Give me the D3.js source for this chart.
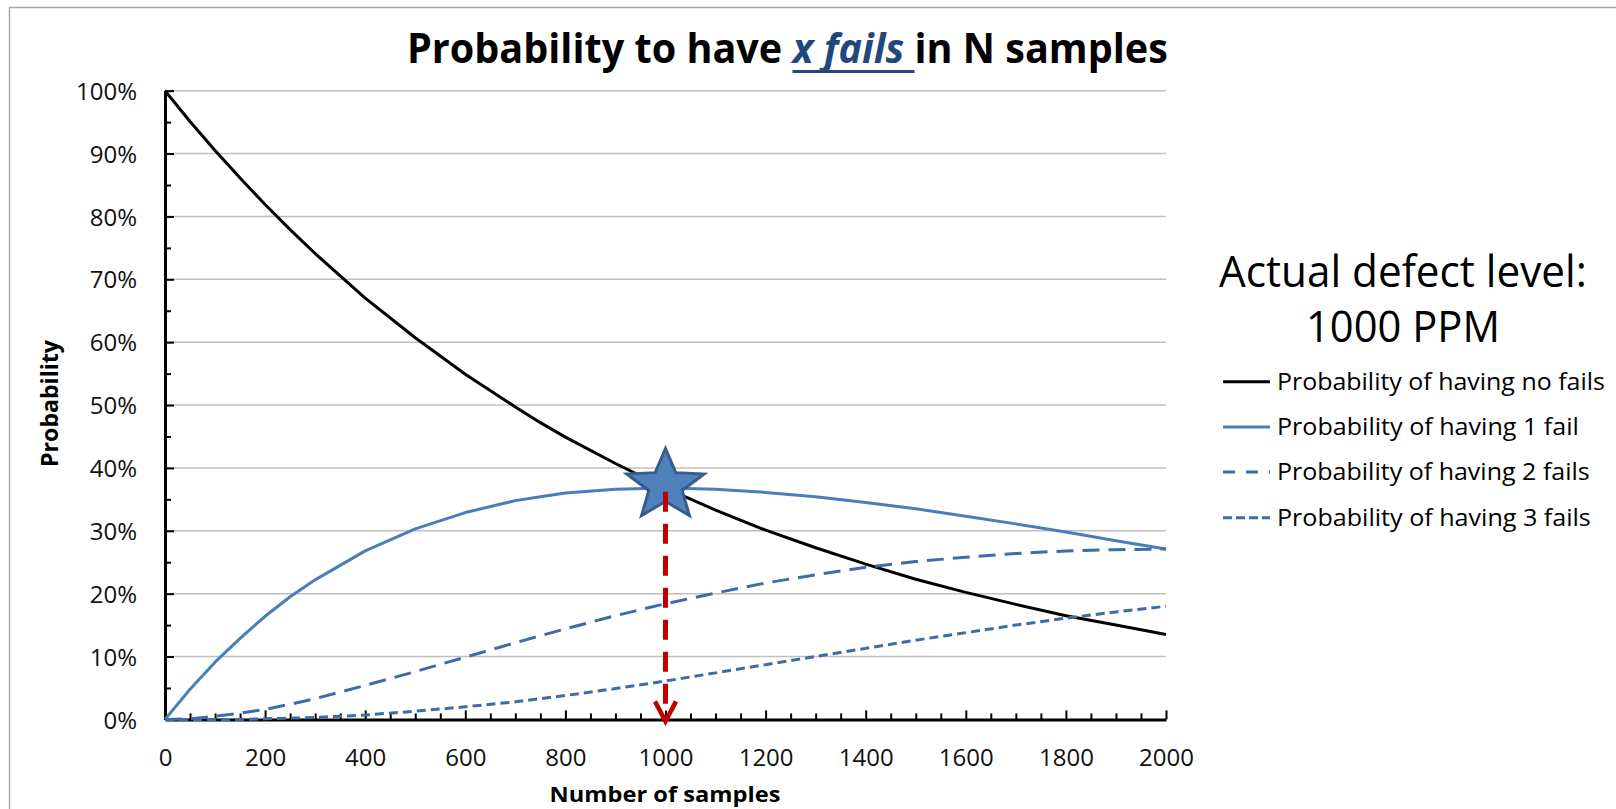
<!DOCTYPE html>
<html>
<head>
<meta charset="utf-8">
<script src="https://cdn.jsdelivr.net/npm/d3@7"></script>
<style>
  html, body { margin: 0; padding: 0; background: #fff; }
  svg { display: block; font-family: "Open Sans", "Noto Sans", sans-serif; }
</style>
</head>
<body>
<svg id="chart" width="1616" height="809"></svg>
<script>
// Sample sizes (x) and the probability of each outcome at a 1000 PPM defect level
const samples = [0, 50, 100, 150, 200, 250, 300, 400, 500, 600, 700, 750, 800, 900, 1000,
                 1100, 1200, 1300, 1400, 1500, 1600, 1700, 1800, 1900, 2000];
const noFails = [1.000, 0.951, 0.905, 0.861, 0.819, 0.779, 0.741, 0.670, 0.607, 0.549, 0.497, 0.472, 0.449, 0.407, 0.368,
                 0.333, 0.301, 0.273, 0.247, 0.223, 0.202, 0.183, 0.165, 0.150, 0.135];
const oneFail = [0, 0.048, 0.091, 0.129, 0.164, 0.195, 0.222, 0.268, 0.303, 0.329, 0.348, 0.354, 0.360, 0.366, 0.368,
                 0.366, 0.361, 0.354, 0.345, 0.335, 0.323, 0.311, 0.298, 0.284, 0.271];
const twoFails = [0, 0.001, 0.005, 0.010, 0.016, 0.024, 0.033, 0.054, 0.076, 0.099, 0.122, 0.133, 0.144, 0.165, 0.184,
                  0.201, 0.217, 0.230, 0.242, 0.251, 0.258, 0.264, 0.268, 0.270, 0.271];
const threeFails = [0, 0, 0, 0, 0.001, 0.002, 0.003, 0.007, 0.013, 0.020, 0.028, 0.033, 0.038, 0.049, 0.061,
                    0.074, 0.087, 0.100, 0.113, 0.126, 0.138, 0.150, 0.161, 0.171, 0.180];
const seriesNames = ["Probability of having no fails", "Probability of having 1 fail",
                     "Probability of having 2 fails", "Probability of having 3 fails"];

// Axis ticks
const xTickValues = [0, 200, 400, 600, 800, 1000, 1200, 1400, 1600, 1800, 2000];
const yTickValues = [0, 0.1, 0.2, 0.3, 0.4, 0.5, 0.6, 0.7, 0.8, 0.9, 1.0];
const yTickLabels = ["0%", "10%", "20%", "30%", "40%", "50%", "60%", "70%", "80%", "90%", "100%"];

// Highlighted point: sample size equal to 1/defect rate
const markerSample = 1000;
const markerValue = 0.372;
const arrowTopValue = 0.362;

const svg = d3.select("#chart");
const W = 1616, H = 809;
const plot = { left: 165, right: 1166, top: 90.7, bottom: 719.4 };

const x = d3.scaleLinear().domain([0, 2000]).range([plot.left, plot.right]);
const y = d3.scaleLinear().domain([0, 1]).range([plot.bottom, plot.top]);

const BLUE = "#4A7EBB", BLUE_DASH = "#3F6CA6", RED = "#C00000";

svg.append("rect").attr("width", W).attr("height", H).attr("fill", "#fff");

// chart frame (top and left edges)
svg.append("path")
  .attr("d", `M9.5,${H + 2}V7.5H${W + 2}`)
  .attr("fill", "none").attr("stroke", "#a6a6a6").attr("stroke-width", 1.5);

// horizontal gridlines
svg.append("g").selectAll("line")
  .data(yTickValues.slice(1))
  .join("line")
  .attr("x1", plot.left).attr("x2", plot.right)
  .attr("y1", d => y(d)).attr("y2", d => y(d))
  .attr("stroke", "#c0c0c0").attr("stroke-width", 1.5);

// x axis: major ticks with labels, minor ticks every 50
const xMinor = d3.range(0, 2001, 50).filter(v => v % 200 !== 0);
const gxMinor = svg.append("g").attr("transform", `translate(0,${y(0)})`)
  .call(d3.axisBottom(x).tickValues(xMinor).tickSize(-6).tickSizeOuter(0).tickFormat(""));
gxMinor.select(".domain").remove();
gxMinor.selectAll("line").attr("stroke", "#000").attr("stroke-width", 2);

const gx = svg.append("g").attr("transform", `translate(0,${y(0)})`)
  .call(d3.axisBottom(x).tickValues(xTickValues).tickSize(-9).tickSizeOuter(0)
    .tickPadding(30).tickFormat(d3.format("d")));
gx.attr("font-family", null).attr("font-size", null);
gx.select(".domain").attr("stroke", "#000").attr("stroke-width", 3);
gx.selectAll(".tick line").attr("stroke", "#000").attr("stroke-width", 2);
gx.selectAll(".tick text").attr("font-size", 24).attr("fill", "#111");

// y axis: major ticks with labels, minor ticks every 5%
const yMinor = [0.05, 0.15, 0.25, 0.35, 0.45, 0.55, 0.65, 0.75, 0.85, 0.95];
const gyMinor = svg.append("g").attr("transform", `translate(${x(0)},0)`)
  .call(d3.axisLeft(y).tickValues(yMinor).tickSize(-6).tickSizeOuter(0).tickFormat(""));
gyMinor.select(".domain").remove();
gyMinor.selectAll("line").attr("stroke", "#000").attr("stroke-width", 2);

const gy = svg.append("g").attr("transform", `translate(${x(0)},0)`)
  .call(d3.axisLeft(y).tickValues(yTickValues).tickSize(-9).tickSizeOuter(0)
    .tickPadding(28).tickFormat((d, i) => yTickLabels[i]));
gy.attr("font-family", null).attr("font-size", null);
gy.select(".domain").attr("stroke", "#000").attr("stroke-width", 3);
gy.selectAll(".tick line").attr("stroke", "#000").attr("stroke-width", 2);
gy.selectAll(".tick text").attr("font-size", 24).attr("fill", "#111").attr("dy", "0.36em");

// series lines
const series = [
  { values: noFails, color: "#000", dash: null, legendDash: null },
  { values: oneFail, color: BLUE, dash: null, legendDash: null },
  { values: twoFails, color: BLUE_DASH, dash: "17,9", legendDash: "12,11" },
  { values: threeFails, color: BLUE_DASH, dash: "9,5", legendDash: "9,4" }
];
const line = d3.line().x((d, i) => x(samples[i])).y(d => y(d));
svg.append("g").attr("fill", "none")
  .selectAll("path")
  .data(series)
  .join("path")
  .attr("d", d => line(d.values))
  .attr("stroke", d => d.color)
  .attr("stroke-width", 3)
  .attr("stroke-linejoin", "round")
  .attr("stroke-dasharray", d => d.dash);

// star marker at N = 1000
const R = 37, sx = 1.1, inner = 0.43;
const starPts = d3.range(10).map(i => {
  const a = -Math.PI / 2 + i * Math.PI / 5;
  const rr = i % 2 ? R * inner : R;
  return [sx * rr * Math.cos(a), rr * Math.sin(a)];
});
svg.append("path")
  .attr("d", "M" + starPts.map(p => p.join(",")).join("L") + "Z")
  .attr("transform", `translate(${x(markerSample)},${y(markerValue)})`)
  .attr("fill", "#4F81BD").attr("stroke", "#385D8A").attr("stroke-width", 3)
  .attr("stroke-linejoin", "miter");

// dashed red drop line with open arrowhead
const ax = x(markerSample);
const tipY = y(0) + 2;
svg.append("line")
  .attr("x1", ax).attr("x2", ax)
  .attr("y1", y(arrowTopValue)).attr("y2", tipY - 3)
  .attr("stroke", RED).attr("stroke-width", 5)
  .attr("stroke-dasharray", "20,12");
svg.append("path")
  .attr("d", `M${ax - 10.5},${tipY - 20}L${ax},${tipY}L${ax + 10.5},${tipY - 20}`)
  .attr("fill", "none").attr("stroke", RED).attr("stroke-width", 4.5)
  .attr("stroke-linejoin", "miter").attr("stroke-linecap", "butt");

// text helper: draws text and squeezes it horizontally to a given width
function fitText(parent, o) {
  const g = parent.append("g")
    .attr("transform", `translate(${o.x},${o.y})` + (o.rotate ? ` rotate(${o.rotate})` : ""));
  const innerG = g.append("g");
  const t = innerG.append("text")
    .attr("font-size", o.size)
    .attr("font-weight", o.weight || 400)
    .attr("fill", o.fill || "#000")
    .attr("text-anchor", o.anchor || "start");
  if (o.parts) {
    o.parts.forEach(p => {
      const s = t.append("tspan").text(p.text);
      if (p.fill) s.attr("fill", p.fill);
      if (p.italic) s.attr("font-style", "italic");
    });
  } else {
    t.text(o.text);
  }
  const w = t.node().getComputedTextLength();
  if (o.width) innerG.attr("transform", `scale(${o.width / w},1)`);
  return { g: innerG, text: t };
}

// title with the underlined "x fails"
const titleParts = [
  { text: "Probability to have " },
  { text: "x fails ", fill: "#1F497D", italic: true },
  { text: "in N samples" }
];
const title = fitText(svg, { x: 407, y: 63, size: 42, weight: 700, width: 761, parts: titleParts });
{
  const node = title.text.node();
  const startIdx = titleParts[0].text.length;
  const endIdx = startIdx + titleParts[1].text.length - 1;
  const x0 = node.getStartPositionOfChar(startIdx).x;
  const x1 = node.getEndPositionOfChar(endIdx).x;
  title.g.append("line")
    .attr("x1", x0).attr("x2", x1).attr("y1", 8.5).attr("y2", 8.5)
    .attr("stroke", "#1F497D").attr("stroke-width", 3);
}

// axis titles
fitText(svg, { x: 665, y: 802, size: 22, weight: 700, width: 231, anchor: "middle", text: "Number of samples" });
fitText(svg, { x: 58, y: 403.5, size: 23, weight: 700, width: 127, anchor: "middle", rotate: -90, text: "Probability" });

// defect level caption
fitText(svg, { x: 1219, y: 287, size: 44, width: 368, text: "Actual defect level:" });
fitText(svg, { x: 1306, y: 342, size: 44, width: 194, text: "1000 PPM" });

// legend
const legendRows = [381.7, 426.9, 472.1, 517.7];
const legendWidths = [328, 302, 313, 314];
const legend = svg.append("g");
series.forEach((s, i) => {
  legend.append("line")
    .attr("x1", 1223).attr("x2", 1270)
    .attr("y1", legendRows[i]).attr("y2", legendRows[i])
    .attr("stroke", s.color).attr("stroke-width", 3)
    .attr("stroke-dasharray", s.legendDash);
  fitText(legend, { x: 1277, y: legendRows[i] + 8.3, size: 24, width: legendWidths[i], text: seriesNames[i] });
});
</script>
</body>
</html>
